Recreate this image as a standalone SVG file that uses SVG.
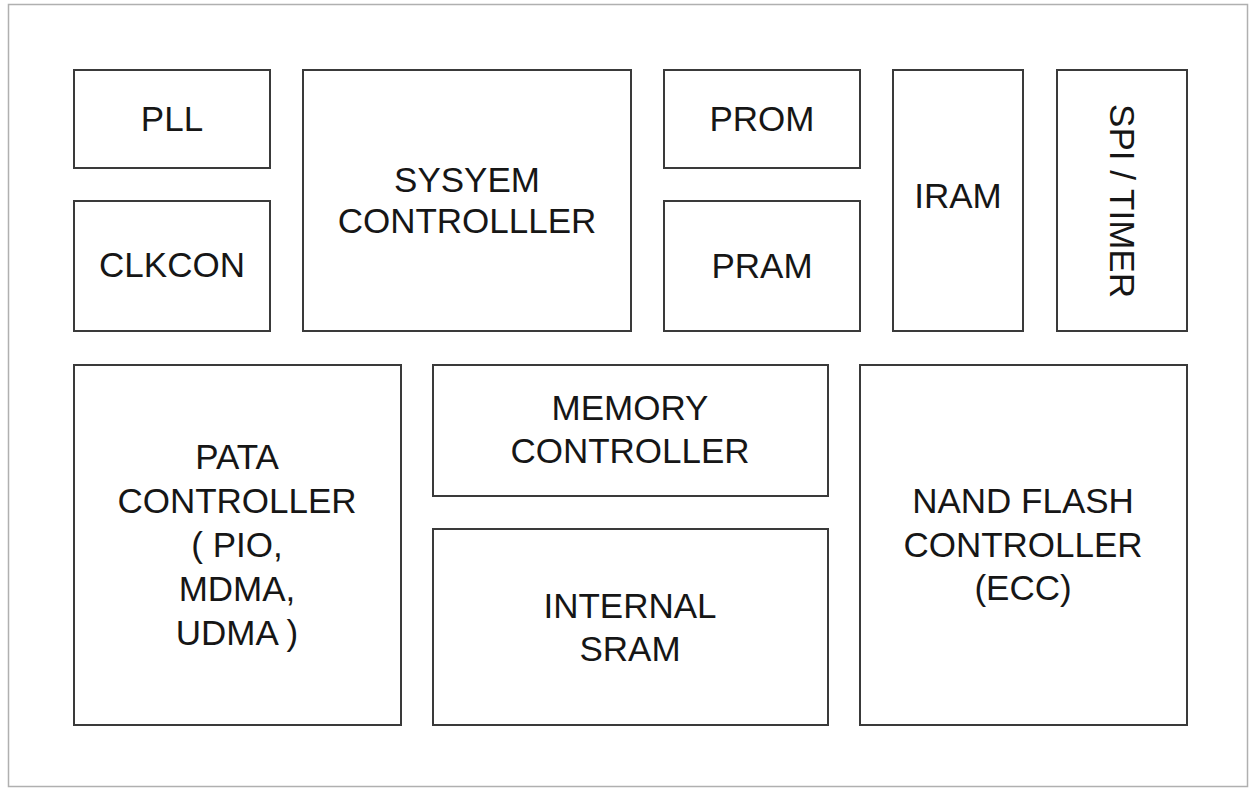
<svg xmlns="http://www.w3.org/2000/svg" width="1250" height="789" viewBox="0 0 1250 789">
  <style>
    .box { fill: #fff; stroke: #3a3a3a; stroke-width: 2; }
    .lbl { font-family: "Liberation Sans", Arial, sans-serif; font-size: 35px; fill: #161616; text-anchor: middle; }
  </style>
  <rect x="0" y="0" width="1250" height="789" fill="#fff"/>
  <rect x="8.5" y="4.5" width="1239" height="782" fill="none" stroke="#b0b0b0" stroke-width="1.5"/>
  <g id="pll"><rect class="box" x="74" y="70" width="196" height="98"/><text class="lbl" x="172" y="131">PLL</text></g>
  <g id="clkcon"><rect class="box" x="74" y="201" width="196" height="130"/><text class="lbl" x="172" y="277">CLKCON</text></g>
  <g id="sysctrl"><rect class="box" x="303" y="70" width="328" height="261"/><text class="lbl" x="467" y="192">SYSYEM</text><text class="lbl" x="467" y="233">CONTROLLLER</text></g>
  <g id="prom"><rect class="box" x="664" y="70" width="196" height="98"/><text class="lbl" x="762" y="131">PROM</text></g>
  <g id="pram"><rect class="box" x="664" y="201" width="196" height="130"/><text class="lbl" x="762" y="278">PRAM</text></g>
  <g id="iram"><rect class="box" x="893" y="70" width="130" height="261"/><text class="lbl" x="958" y="208">IRAM</text></g>
  <g id="spi"><rect class="box" x="1057" y="70" width="130" height="261"/><text class="lbl" transform="translate(1122 201) rotate(90)" x="0" y="12">SPI / TIMER</text></g>
  <g id="pata"><rect class="box" x="74" y="365" width="327" height="360"/>
    <text class="lbl" x="237" y="469">PATA</text>
    <text class="lbl" x="237" y="513">CONTROLLER</text>
    <text class="lbl" x="237" y="557">( PIO,</text>
    <text class="lbl" x="237" y="601">MDMA,</text>
    <text class="lbl" x="237" y="645">UDMA )</text>
  </g>
  <g id="memctrl"><rect class="box" x="433" y="365" width="395" height="131"/><text class="lbl" x="630" y="420">MEMORY</text><text class="lbl" x="630" y="463">CONTROLLER</text></g>
  <g id="sram"><rect class="box" x="433" y="529" width="395" height="196"/><text class="lbl" x="630" y="618">INTERNAL</text><text class="lbl" x="630" y="661">SRAM</text></g>
  <g id="nand"><rect class="box" x="860" y="365" width="327" height="360"/>
    <text class="lbl" x="1023" y="513">NAND FLASH</text>
    <text class="lbl" x="1023" y="557">CONTROLLER</text>
    <text class="lbl" x="1023" y="600">(ECC)</text>
  </g>
  <g id="connectors"></g>
</svg>
